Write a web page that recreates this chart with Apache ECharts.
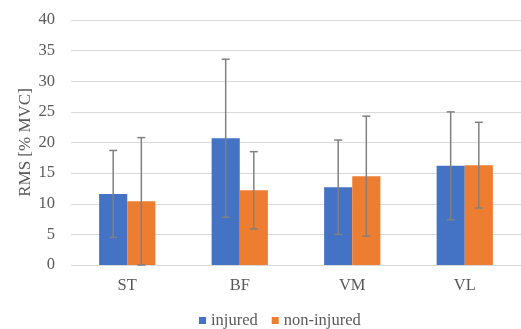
<!DOCTYPE html>
<html><head><meta charset="utf-8">
<script src="https://cdn.jsdelivr.net/npm/echarts@6/dist/echarts.min.js"></script>
<style>html,body{margin:0;padding:0;background:#fff}#c{width:521px;height:329px}</style>
</head><body><div id="c"></div>
<script>
const categories = ['ST', 'BF', 'VM', 'VL'];
const injured = [11.6, 20.7, 12.7, 16.2];
const injuredSD = [7.1, 12.9, 7.7, 8.8];
const nonInjured = [10.4, 12.2, 14.5, 16.3];
const nonInjuredSD = [10.4, 6.3, 9.8, 7.0];
const yTicks = [0, 5, 10, 15, 20, 25, 30, 35, 40];

const font = '"Liberation Serif", "Times New Roman", serif';
const chart = echarts.init(document.getElementById('c'), null, {renderer: 'canvas'});

function errSeries(name, means, sds, offset) {
  return {
    type: 'custom', name: name + '_err', silent: true, z: 5,
    data: means.map((m, i) => [i, m - sds[i], m + sds[i]]),
    renderItem: function (params, api) {
      const i = api.value(0);
      const lo = api.coord([i, api.value(1)]);
      const hi = api.coord([i, api.value(2)]);
      const bw = api.size([1, 0])[0];
      const x = lo[0] + bw * offset;
      const cap = 4;
      const st = {stroke: '#808080', lineWidth: 1.5};
      return {type: 'group', children: [
        {type: 'line', shape: {x1: x, y1: lo[1], x2: x, y2: hi[1]}, style: st},
        {type: 'line', shape: {x1: x - cap, y1: lo[1], x2: x + cap, y2: lo[1]}, style: st},
        {type: 'line', shape: {x1: x - cap, y1: hi[1], x2: x + cap, y2: hi[1]}, style: st}
      ]};
    }
  };
}

chart.setOption({
  animation: false,
  grid: {left: 71, top: 20, width: 452, height: 245, containLabel: false},
  legend: {
    data: ['injured', 'non-injured'], top: 307, left: 194,
    itemWidth: 7, itemHeight: 7, itemGap: 14, icon: 'rect',
    textStyle: {fontFamily: font, fontSize: 16.5, color: '#595959'}
  },
  xAxis: {
    type: 'category', data: categories,
    axisLine: {show: false}, axisTick: {show: false},
    axisLabel: {fontFamily: font, fontSize: 16.5, color: '#595959', margin: 12}
  },
  yAxis: {
    type: 'value', min: yTicks[0], max: yTicks[yTicks.length - 1], interval: 5,
    name: 'RMS [% MVC]', nameLocation: 'middle', nameGap: 37, nameRotate: 90,
    nameMoveOverlap: false,
    nameTextStyle: {fontFamily: font, fontSize: 17, color: '#595959'},
    axisLine: {show: false}, axisTick: {show: false},
    axisLabel: {fontFamily: font, fontSize: 16.5, color: '#595959', margin: 16},
    splitLine: {lineStyle: {color: '#d9d9d9', width: 1}}
  },
  series: [
    {name: 'injured', type: 'bar', data: injured, barGap: '0%', barCategoryGap: '50%',
     itemStyle: {color: '#4472C4'}},
    {name: 'non-injured', type: 'bar', data: nonInjured, barGap: '0%', barCategoryGap: '50%',
     itemStyle: {color: '#ED7D31'}},
    errSeries('injured', injured, injuredSD, -0.125),
    errSeries('non-injured', nonInjured, nonInjuredSD, 0.125)
  ]
});
</script></body></html>
